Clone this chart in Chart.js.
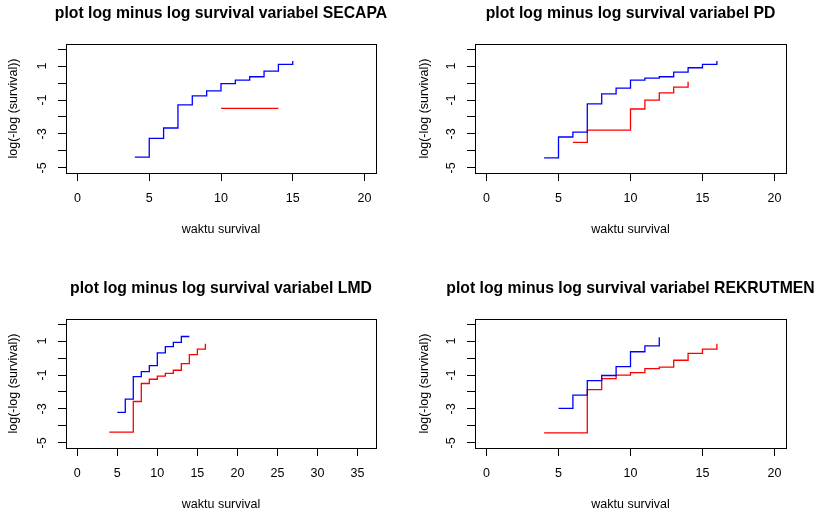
<!DOCTYPE html>
<html>
<head>
<meta charset="utf-8">
<script src="https://cdn.jsdelivr.net/npm/chart.js@4"></script>
<style>
    html, body { margin: 0; padding: 0; background: #fff; overflow: hidden; }
    #wrap { position: relative; width: 822px; height: 514px; overflow: hidden; }
    #wrap canvas { position: absolute; }
</style>
</head>
<body>
<div id="wrap">
    <canvas id="pSecapa" width="442" height="240" style="left:0;top:0"></canvas>
    <canvas id="pPd" width="439" height="240" style="left:411px;top:0"></canvas>
    <canvas id="pLmd" width="442" height="240" style="left:0;top:275px"></canvas>
    <canvas id="pRekrut" width="439" height="240" style="left:411px;top:275px"></canvas>
</div>
<script>
// tick values
const xTicks20 = [0, 5, 10, 15, 20];
const xTicks35 = [0, 5, 10, 15, 20, 25, 30, 35];
const yTicks = [-5, -4, -3, -2, -1, 0, 1, 2];
const yTickLabels = ['-5', '', '-3', '', '-1', '', '1', ''];

// SECAPA
const secapaTimesBlue = [4, 5, 6, 7, 8, 9, 10, 11, 12, 13, 14, 15];
const secapaValuesBlue = [-4.37, -3.26, -2.65, -1.29, -0.76, -0.46, -0.03, 0.17, 0.37, 0.70, 1.10, 1.30];
const secapaTimesRed = [10, 14];
const secapaValuesRed = [-1.49, -1.49];

// PD
const pdTimesBlue = [4, 5, 6, 7, 8, 9, 10, 11, 12, 13, 14, 15, 16];
const pdValuesBlue = [-4.41, -3.18, -2.89, -1.23, -0.64, -0.30, 0.17, 0.29, 0.37, 0.64, 0.90, 1.10, 1.30];
const pdTimesRed = [6, 7, 10, 11, 12, 13, 14];
const pdValuesRed = [-3.50, -2.77, -1.53, -1.01, -0.58, -0.24, 0.07];

// LMD
const lmdTimesBlue = [5, 6, 7, 8, 9, 10, 11, 12, 13, 14];
const lmdValuesBlue = [-3.20, -2.42, -1.09, -0.80, -0.45, 0.31, 0.67, 0.92, 1.27, 1.27];
const lmdTimesRed = [4, 7, 8, 9, 10, 11, 12, 13, 14, 15, 16];
const lmdValuesRed = [-4.36, -2.56, -1.50, -1.25, -1.07, -0.90, -0.72, -0.33, 0.20, 0.53, 0.84];

// REKRUTMEN
const rekrutTimesBlue = [5, 6, 7, 8, 9, 10, 11, 12];
const rekrutValuesBlue = [-2.97, -2.19, -1.33, -1.03, -0.51, 0.37, 0.72, 1.22];
const rekrutTimesRed = [4, 7, 8, 9, 10, 11, 12, 13, 14, 15, 16];
const rekrutValuesRed = [-4.41, -1.86, -1.21, -1.01, -0.86, -0.62, -0.54, -0.13, 0.28, 0.53, 0.84];

Chart.defaults.font.family = '"Liberation Sans", Arial, sans-serif';
Chart.defaults.color = '#000';

const boxPlugin = {
    id: 'box',
    afterDraw(chart) {
        const a = chart.chartArea, ctx = chart.ctx;
        ctx.save();
        ctx.strokeStyle = '#000';
        ctx.lineWidth = 1;
        ctx.strokeRect(Math.round(a.left) + 0.5, Math.round(a.top) + 0.5,
            Math.round(a.right - a.left), Math.round(a.bottom - a.top));
        ctx.restore();
    }
};

function toPoints(xs, ys) {
    return xs.map((x, i) => ({ x: x, y: ys[i] }));
}

function stepSet(xs, ys, color) {
    return {
        data: toPoints(xs, ys),
        borderColor: color,
        borderWidth: 1.3,
        pointRadius: 0,
        showLine: true,
        stepped: true,
        fill: false
    };
}

// canvas is centred on the plot box; an empty right axis mirrors the left one
// so the full-width title sits over the middle of the box
function makePanel(id, title, datasets, xMin, xMax, xTicks, axisWidth) {
    return new Chart(document.getElementById(id), {
        type: 'scatter',
        data: { datasets: datasets },
        options: {
            responsive: false,
            animation: false,
            layout: { padding: 0 },
            plugins: {
                legend: { display: false },
                tooltip: { enabled: false },
                title: {
                    display: true,
                    text: title,
                    font: { size: 15.75, weight: 'bold' },
                    padding: { top: 4.7, bottom: 20.4 }
                }
            },
            scales: {
                x: {
                    type: 'linear',
                    min: xMin,
                    max: xMax,
                    afterBuildTicks: s => { s.ticks = xTicks.map(v => ({ value: v })); },
                    afterFit: s => { s.height = 67; s.paddingLeft = 0; s.paddingRight = 0; },
                    grid: { drawOnChartArea: false, drawTicks: true, tickLength: 8, color: '#000' },
                    border: { display: false },
                    ticks: { font: { size: 12.5 }, padding: 10, autoSkip: false, maxRotation: 0 },
                    title: { display: true, text: 'waktu survival', font: { size: 12.5 }, padding: { top: 0, bottom: 2.5 } }
                },
                y: {
                    type: 'linear',
                    min: -5.3,
                    max: 2.3,
                    afterBuildTicks: s => { s.ticks = yTicks.map(v => ({ value: v })); },
                    afterFit: s => { s.width = axisWidth; s.paddingTop = 0; s.paddingBottom = 0; },
                    grid: { drawOnChartArea: false, drawTicks: true, tickLength: 8, color: '#000' },
                    border: { display: false },
                    ticks: {
                        font: { size: 12.5 },
                        padding: 10,
                        autoSkip: false,
                        minRotation: 90,
                        maxRotation: 90,
                        crossAlign: 'center',
                        callback: v => yTickLabels[yTicks.indexOf(v)] ?? ''
                    },
                    title: { display: true, text: 'log(-log (survival))', font: { size: 12.5 }, padding: { top: 5.9, bottom: 0 } }
                },
                yRight: {
                    type: 'linear',
                    position: 'right',
                    min: -5.3,
                    max: 2.3,
                    afterFit: s => { s.width = axisWidth; s.paddingTop = 0; s.paddingBottom = 0; },
                    grid: { display: false },
                    border: { display: false },
                    ticks: { display: false }
                }
            }
        },
        plugins: [boxPlugin]
    });
}

makePanel('pSecapa', 'plot log minus log survival variabel SECAPA', [
    stepSet(secapaTimesBlue, secapaValuesBlue, 'rgb(0,0,255)'),
    stepSet(secapaTimesRed, secapaValuesRed, 'rgb(255,0,0)')
], -0.8, 20.8, xTicks20, 66);

makePanel('pPd', 'plot log minus log survival variabel PD', [
    stepSet(pdTimesBlue, pdValuesBlue, 'rgb(0,0,255)'),
    stepSet(pdTimesRed, pdValuesRed, 'rgb(255,0,0)')
], -0.8, 20.8, xTicks20, 64);

makePanel('pLmd', 'plot log minus log survival variabel LMD', [
    stepSet(lmdTimesBlue, lmdValuesBlue, 'rgb(0,0,255)'),
    stepSet(lmdTimesRed, lmdValuesRed, 'rgb(255,0,0)')
], -1.4, 37.3, xTicks35, 66);

makePanel('pRekrut', 'plot log minus log survival variabel REKRUTMEN', [
    stepSet(rekrutTimesBlue, rekrutValuesBlue, 'rgb(0,0,255)'),
    stepSet(rekrutTimesRed, rekrutValuesRed, 'rgb(255,0,0)')
], -0.8, 20.8, xTicks20, 64);
</script>
</body>
</html>
